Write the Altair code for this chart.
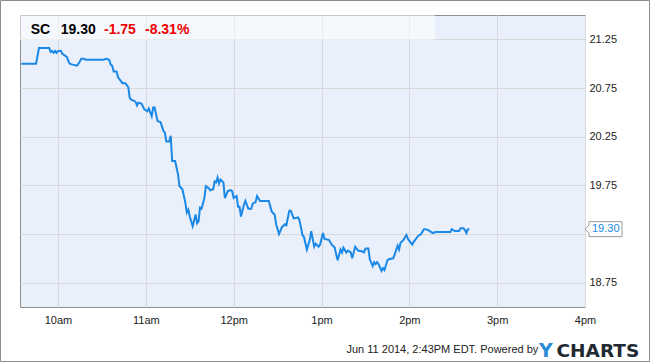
import altair as alt
import pandas as pd

# ---- data (intraday SC, Jun 11 2014) ----
times = [
    "9:35", "9:45", "9:47", "9:54", "9:55", "9:56", "9:57", "9:58", "9:59",
    "10:00", "10:02", "10:03", "10:06", "10:07", "10:08", "10:10", "10:13", "10:14", "10:16",
    "10:18", "10:19", "10:26", "10:31", "10:33", "10:35", "10:36", "10:37", "10:38", "10:40",
    "10:41", "10:43", "10:44", "10:46", "10:48",
    "10:49", "10:50", "10:53", "10:54", "10:55", "10:57", "10:59",
    "11:01", "11:02", "11:04", "11:05", "11:06", "11:08", "11:10", "11:12", "11:13", "11:14",
    "11:16", "11:17", "11:18", "11:20", "11:22", "11:23", "11:25", "11:27", "11:28", "11:29",
    "11:30", "11:32", "11:34", "11:35", "11:36", "11:37", "11:38", "11:40", "11:41", "11:43",
    "11:44", "11:46", "11:47", "11:48", "11:49", "11:50", "11:51", "11:53", "11:54", "11:56",
    "11:58", "11:59", "12:00", "12:02", "12:03", "12:04", "12:05", "12:07", "12:08", "12:10",
    "12:12", "12:13", "12:15", "12:16", "12:18", "12:20", "12:24", "12:26", "12:28", "12:29",
    "12:31", "12:33", "12:35", "12:36", "12:38", "12:39", "12:41", "12:44", "12:45", "12:47",
    "12:48", "12:50", "12:52", "12:53", "12:55", "12:56", "12:58", "12:59", "13:01", "13:02",
    "13:05", "13:07", "13:09", "13:11", "13:13", "13:14", "13:15", "13:17", "13:18", "13:20",
    "13:21", "13:23", "13:25", "13:28", "13:29", "13:30", "13:32", "13:33", "13:35", "13:36",
    "13:37", "13:38", "13:39", "13:41", "13:42", "13:43", "13:45", "13:46", "13:49", "13:50",
    "13:52", "13:53", "13:54", "13:56", "13:58", "13:59", "14:00", "14:02", "14:03", "14:04",
    "14:06", "14:08", "14:10", "14:11", "14:13", "14:15", "14:16", "14:18", "14:20", "14:23",
    "14:28", "14:29", "14:31", "14:34", "14:35", "14:37", "14:38", "14:39", "14:40", "14:41",
]
prices = [
    21.00, 21.00, 21.16, 21.16, 21.12, 21.13, 21.11, 21.13, 21.11,
    21.13, 21.13, 21.10, 21.07, 21.03, 21.00, 20.99, 20.98, 21.00, 21.05,
    21.05, 21.04, 21.04, 21.04, 21.05, 21.04, 20.99, 20.98, 20.92, 20.92,
    20.86, 20.82, 20.80, 20.80, 20.76,
    20.65, 20.63, 20.61, 20.57, 20.60, 20.59, 20.53,
    20.51, 20.54, 20.46, 20.55, 20.55, 20.41, 20.40, 20.31, 20.29, 20.20,
    20.20, 20.26, 20.00, 20.00, 19.86, 19.74, 19.71, 19.57, 19.47, 19.50,
    19.43, 19.33, 19.45, 19.36, 19.38, 19.52, 19.51, 19.62, 19.74, 19.72,
    19.70, 19.71, 19.79, 19.78, 19.83, 19.77, 19.81, 19.78, 19.62, 19.69,
    19.70, 19.69, 19.62, 19.64, 19.53, 19.53, 19.43, 19.55, 19.59, 19.51,
    19.51, 19.56, 19.58, 19.64, 19.59, 19.59, 19.59, 19.48, 19.45, 19.35,
    19.25, 19.32, 19.35, 19.34, 19.49, 19.49, 19.41, 19.42, 19.39, 19.24,
    19.22, 19.09, 19.19, 19.28, 19.12, 19.15, 19.12, 19.14, 19.26, 19.20,
    19.19, 19.14, 19.11, 18.98, 19.09, 19.06, 19.11, 19.06, 19.08, 19.06,
    19.00, 19.12, 19.08, 19.07, 19.06, 19.10, 19.10, 18.99, 18.92, 18.96,
    18.94, 18.96, 18.94, 18.87, 18.90, 18.88, 18.98, 18.99, 19.00, 19.04,
    19.13, 19.09, 19.16, 19.19, 19.24, 19.20, 19.18, 19.14, 19.17, 19.19,
    19.23, 19.25, 19.30, 19.30, 19.29, 19.27, 19.26, 19.27, 19.27, 19.27,
    19.27, 19.30, 19.28, 19.28, 19.31, 19.31, 19.29, 19.26, 19.30, 19.30,
]

x_ticks = [10, 11, 12, 13, 14, 15, 16]
y_ticks = [18.75, 19.25, 19.75, 20.25, 20.75, 21.25]

header_symbol = "SC"
header_last = "19.30"
header_change = "-1.75"
header_pct = "-8.31%"
footer_note = "Jun 11 2014, 2:43PM EDT. Powered by"
brand_a = "Y"
brand_b = "CHARTS"


def to_hours(t):
    h, m = t.split(":")
    return int(h) + int(m) / 60.0


df = pd.DataFrame({
    "hour": [to_hours(t) for t in times],
    "price": prices,
    "idx": list(range(len(times))),
})
last = df.tail(1)

LINE = "#1a88e6"
FONT = "Liberation Sans"

x_scale = alt.Scale(domain=[9.5673, 16], nice=False, zero=False)
y_scale = alt.Scale(domain=[18.5, 21.5], nice=False, zero=False)

x_axis = alt.Axis(
    values=x_ticks,
    labelExpr="datum.value == 12 ? '12pm' : (datum.value > 12 ? (datum.value - 12) + 'pm' : datum.value + 'am')",
    grid=True, gridColor="#d9d9d9", gridWidth=1,
    ticks=False, domain=False, labelFlush=False, labelPadding=7,
    labelFont=FONT, labelFontSize=11, labelColor="#222222", title=None,
)
y_axis = alt.Axis(
    orient="right", values=y_ticks, format=".2f",
    labelExpr="datum.value == 19.25 ? '' : datum.label",
    grid=True, gridColor="#d9d9d9", gridWidth=1,
    ticks=False, domain=False, labelFlush=False, labelPadding=4,
    labelFont=FONT, labelFontSize=11, labelColor="#222222", title=None,
)

one = pd.DataFrame({"k": [0]})

band = alt.Chart(one).mark_rect(color="white", opacity=0.5).encode(
    x=alt.value(0), x2=alt.value(415), y=alt.value(0), y2=alt.value(25)
)

line = alt.Chart(df).mark_line(color=LINE, strokeWidth=2, clip=True).encode(
    x=alt.X("hour:Q", scale=x_scale, axis=x_axis),
    y=alt.Y("price:Q", scale=y_scale, axis=y_axis),
    order="idx:Q",
)

flag_path = "M0,0L4,-4L4,-7.5L37,-7.5L37,7.5L4,7.5L4,4Z"
flag = alt.Chart(last).mark_point(
    shape=flag_path, size=4, filled=True, fill="white", stroke="#9a9a9a",
    strokeWidth=1, opacity=1,
).encode(
    x=alt.value(565),
    y=alt.Y("price:Q", scale=y_scale, axis=y_axis),
)
flag_text = alt.Chart(last).mark_text(
    align="left", baseline="middle", font=FONT, fontSize=11, color=LINE,
).encode(
    x=alt.value(572),
    y=alt.Y("price:Q", scale=y_scale, axis=y_axis),
    text=alt.Text("price:Q", format=".2f"),
)


def label(txt, x, y, color, size, weight="normal", font=FONT):
    return alt.Chart(pd.DataFrame({"t": [txt]})).mark_text(
        align="left", baseline="alphabetic", font=font, fontSize=size,
        fontWeight=weight, color=color,
    ).encode(x=alt.value(x), y=alt.value(y), text="t:N")


h1 = label(header_symbol, 10.7, 18.5, "#000000", 14, "bold")
h2 = label(header_last, 40.7, 18.5, "#000000", 14, "bold")
h3 = label(header_change, 84, 18.5, "#ee0000", 14, "bold")
h4 = label(header_pct, 125, 18.5, "#ee0000", 14, "bold")

f1 = label(footer_note, 326.5, 338, "#222222", 11)
f2 = label(brand_a, 519, 341.8, "#2b8ad6", 19, "bold", "DejaVu Sans")
f3 = label(brand_b, 536.5, 341.8, "#1f2a33", 18.5, "bold", "DejaVu Sans")

frame = alt.Chart(one).mark_rect(fillOpacity=0, stroke="#8c8c8c", strokeWidth=1).encode(
    x=alt.value(-19.5), x2=alt.value(629.5), y=alt.value(-14.5), y2=alt.value(346.5)
)

chart = alt.layer(
    band, line, flag, flag_text, h1, h2, h3, h4, f1, f2, f3, frame
).properties(
    width=565, height=292,
    padding={"left": 20, "top": 15, "right": 65, "bottom": 55},
    autosize=alt.AutoSizeParams(type="none"),
    background="white",
).configure_view(
    fill="#eaf0fb", stroke="#8f8f8f", strokeWidth=1,
)

chart.save("out.html", embed_options={"renderer": "svg", "actions": False})
